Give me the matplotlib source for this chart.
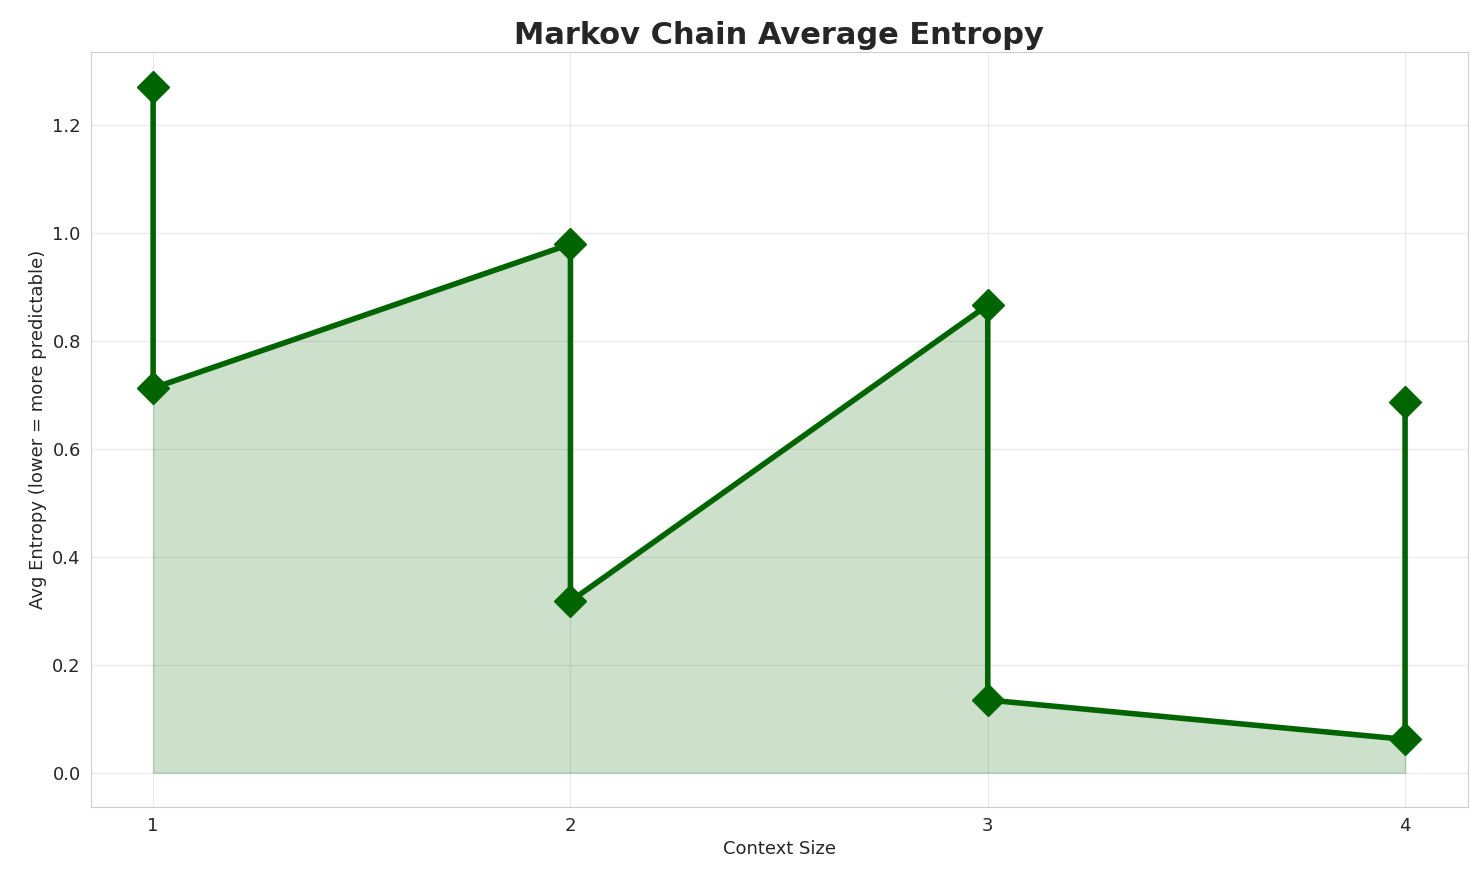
import matplotlib
matplotlib.use("Agg")
import matplotlib.pyplot as plt
import seaborn as sns

sns.set_style("whitegrid")

context_size = [1, 1, 2, 2, 3, 3, 4, 4]
avg_entropy = [1.272, 0.713, 0.980, 0.318, 0.867, 0.135, 0.062, 0.688]

fig, ax = plt.subplots(figsize=(14.84, 8.85), dpi=100)
ax.plot(context_size, avg_entropy, color="darkgreen", linewidth=4,
        marker="D", markersize=16)
ax.fill_between(context_size, avg_entropy, color="darkgreen", alpha=0.2)

ax.set_title("Markov Chain Average Entropy", fontsize=22, fontweight="bold")
ax.set_xlabel("Context Size", fontsize=13)
ax.set_ylabel("Avg Entropy (lower = more predictable)", fontsize=13)
ax.set_xticks([1, 2, 3, 4])
ax.tick_params(labelsize=13)
ax.grid(True, alpha=0.4)

plt.subplots_adjust(left=0.061, right=0.989, top=0.941, bottom=0.088)
plt.savefig("out.png")
